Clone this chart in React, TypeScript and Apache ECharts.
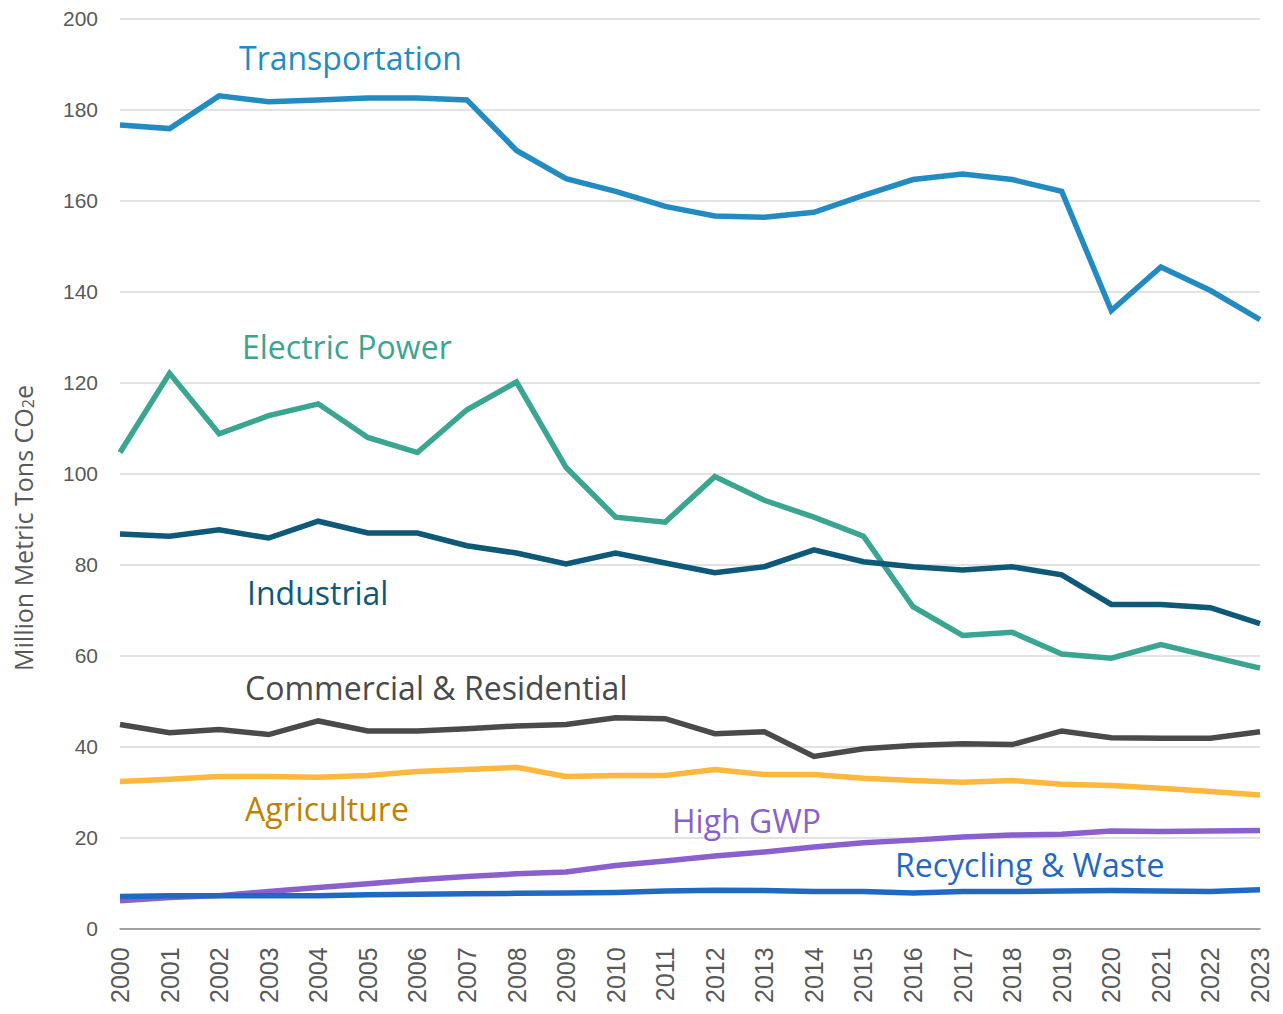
import React, { useEffect, useRef } from "react";
import * as echarts from "echarts";

const years = ["2000","2001","2002","2003","2004","2005","2006","2007","2008","2009","2010","2011","2012","2013","2014","2015","2016","2017","2018","2019","2020","2021","2022","2023"];

const transportation = [176.6,175.8,183.0,181.7,182.1,182.5,182.5,182.1,171.0,164.8,162.0,158.7,156.6,156.3,157.4,161.1,164.6,165.8,164.6,162.0,135.8,145.4,140.2,133.8];
const electricPower = [104.6,122.0,108.7,112.7,115.3,107.9,104.6,114.0,120.1,101.3,90.4,89.3,99.3,94.1,90.4,86.2,70.7,64.4,65.1,60.3,59.4,62.4,59.8,57.2];
const industrial = [86.7,86.2,87.6,85.8,89.5,86.9,86.9,84.1,82.5,80.1,82.5,80.3,78.2,79.5,83.2,80.6,79.5,78.8,79.5,77.7,71.2,71.2,70.5,67.0];
const commercialResidential = [44.8,43.0,43.7,42.6,45.6,43.4,43.4,43.9,44.5,44.8,46.3,46.1,42.8,43.2,37.8,39.5,40.2,40.6,40.4,43.4,41.9,41.8,41.8,43.2];
const agriculture = [32.3,32.8,33.4,33.4,33.2,33.6,34.5,34.9,35.4,33.4,33.6,33.6,34.9,33.8,33.8,33.0,32.5,32.1,32.5,31.7,31.4,30.8,30.1,29.3];
const highGWP = [6.1,6.8,7.2,8.1,9.0,9.8,10.7,11.4,12.0,12.4,13.8,14.8,15.9,16.8,17.9,18.8,19.4,20.1,20.5,20.7,21.4,21.3,21.4,21.5];
const recyclingWaste = [7.0,7.2,7.2,7.2,7.2,7.4,7.5,7.6,7.7,7.8,7.9,8.2,8.4,8.3,8.1,8.1,7.8,8.1,8.1,8.2,8.3,8.2,8.1,8.5];

const yTicks = [0, 20, 40, 60, 80, 100, 120, 140, 160, 180, 200];

const seriesDefs = [
  { name: "Transportation", data: transportation, color: "#228CC2", labelColor: "#228CC2", lx: 231, ly: 33 },
  { name: "Electric Power", data: electricPower, color: "#3AA590", labelColor: "#3AA590", lx: 234, ly: 322 },
  { name: "Industrial", data: industrial, color: "#0E5878", labelColor: "#0E5878", lx: 239, ly: 568 },
  { name: "Commercial & Residential", data: commercialResidential, color: "#4A4A4A", labelColor: "#4A4A4A", lx: 237, ly: 663 },
  { name: "Agriculture", data: agriculture, color: "#FFB73D", labelColor: "#BF8200", lx: 237, ly: 784 },
  { name: "High GWP", data: highGWP, color: "#8A5FCE", labelColor: "#8A5FCE", lx: 664, ly: 796 },
  { name: "Recycling & Waste", data: recyclingWaste, color: "#1F69C3", labelColor: "#1F69C3", lx: 887, ly: 840 },
];

export default function App() {
  const ref = useRef<HTMLDivElement>(null);
  useEffect(() => {
    if (!ref.current) return;
    const chart = echarts.init(ref.current, null, { renderer: "svg" });
    const labelFont = "'Open Sans', 'Noto Sans', sans-serif";
    const tickFont = "'Liberation Sans', Arial, sans-serif";
    chart.setOption({
      animation: false,
      backgroundColor: "#ffffff",
      grid: { left: 112, right: 15, top: 7, bottom: 75, containLabel: false },
      xAxis: {
        type: "category",
        data: years,
        boundaryGap: false,
        axisLine: { show: true, lineStyle: { color: "#8c8c8c", width: 1.5 } },
        axisTick: { show: false },
        axisLabel: {
          rotate: 90,
          interval: 0,
          color: "#595959",
          fontSize: 25,
          fontFamily: tickFont,
          margin: 19,
        },
        splitLine: { show: false },
      },
      yAxis: {
        type: "value",
        min: yTicks[0],
        max: yTicks[yTicks.length - 1],
        interval: 20,
        axisLine: { show: false },
        axisTick: { show: false },
        axisLabel: { color: "#595959", fontSize: 21, fontFamily: tickFont, margin: 22 },
        splitLine: { show: true, lineStyle: { color: "#d9d9d9", width: 1.5 } },
      },
      series: seriesDefs.map((s) => ({
        name: s.name,
        type: "line",
        data: s.data,
        symbol: "none",
        lineStyle: { color: s.color, width: 5.5, join: "miter" },
        itemStyle: { color: s.color },
        z: 3,
      })),
      graphic: [
        ...seriesDefs.map((s) => ({
          type: "text",
          left: s.lx,
          top: s.ly,
          z: 10,
          style: {
            text: s.name,
            fill: s.labelColor,
            font: `32px ${labelFont}`,
          },
        })),
        {
          type: "text",
          x: 15,
          y: 520,
          rotation: Math.PI / 2,
          z: 10,
          style: {
            text: "Million Metric Tons CO{sub|2}e",
            rich: {
              sub: { fontSize: 16, fill: "#595959", verticalAlign: "bottom", padding: [10, 0, 0, 0], fontFamily: labelFont },
            },
            fill: "#595959",
            fontSize: 25,
            fontFamily: labelFont,
            align: "center",
            verticalAlign: "middle",
          },
        },
      ],
    });
    return () => chart.dispose();
  }, []);
  return <div ref={ref} style={{ width: 1267, height: 998 }} />;
}
